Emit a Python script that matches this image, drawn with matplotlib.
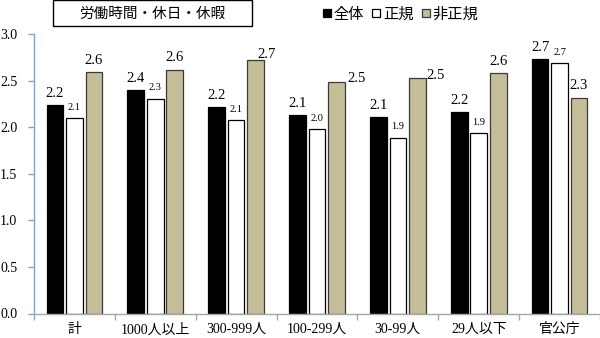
import matplotlib
matplotlib.use("Agg")
import matplotlib.pyplot as plt
import numpy as np
from matplotlib.lines import Line2D
from matplotlib.patches import Rectangle

# Scores by company size
categories = ["計", "1000人以上", "300-999人", "100-299人", "30-99人", "29人以下", "官公庁"]
series_names = ["全体", "正規", "非正規"]
zentai = [2.235, 2.40, 2.22, 2.13, 2.11, 2.16, 2.735]
seiki = [2.10, 2.31, 2.08, 1.98, 1.89, 1.94, 2.69]
hiseiki = [2.59, 2.62, 2.72, 2.49, 2.53, 2.585, 2.32]
title_text = "労働時間・休日・休暇"
yticks = [0.0, 0.5, 1.0, 1.5, 2.0, 2.5, 3.0]

SERIF = "Liberation Serif"
CJK = "Noto Sans CJK JP"
MIXED = [SERIF, CJK]

face_colors = ["#000000", "#FFFFFF", "#C4BD97"]
edge_colors = ["#000000", "#000000", "#3A3A3A"]
label_sizes = [10.5, 7.5, 10.5]
# label offsets (points) for the 非正規 series; others sit centered above
tan_offsets = [(0, 6), (0, 6), (7.5, 2), (14.5, 0), (13, -0.5), (0, 6), (0, 6)]

fig = plt.figure(figsize=(6.0, 3.38), dpi=100)
ax = fig.add_axes([34 / 600, 1 - 313.5 / 338, 566 / 600, (313.5 - 34.3) / 338])

x = np.arange(len(categories))
bar_w = 0.206
step = 0.241
all_series = [zentai, seiki, hiseiki]
for i, vals in enumerate(all_series):
    xs = x + (i - 1) * step
    ax.bar(xs, vals, width=bar_w, color=face_colors[i], edgecolor=edge_colors[i],
           linewidth=0.9, zorder=2)
    for j, (xx, v) in enumerate(zip(xs, vals)):
        dx, dy = (tan_offsets[j] if i == 2 else (0, 6))
        ax.annotate(f"{v:.1f}", xy=(xx, v), xytext=(dx, dy), textcoords="offset points",
                    ha="center", va="baseline", fontsize=label_sizes[i],
                    family=SERIF, color="black")

ax.set_xlim(-0.5, len(categories) - 0.5)
ax.set_ylim(0, 3.0)

ax.set_yticks(yticks)
ax.set_yticklabels([f"{t:.1f}" for t in yticks], family=SERIF, fontsize=10)
ax.set_xticks(x)
ax.set_xticklabels(categories, family=MIXED, fontsize=10)
ax.set_xticks(np.arange(len(categories) + 1) - 0.5, minor=True)

for s in ("top", "right"):
    ax.spines[s].set_visible(False)
ax.spines["left"].set_color("#7AA6DB")
ax.spines["left"].set_linewidth(1.0)
ax.spines["bottom"].set_color("#A6A6A6")
ax.spines["bottom"].set_linewidth(1.0)

ax.tick_params(axis="y", direction="out", length=4, width=1, color="#7AA6DB", pad=8)
ax.tick_params(axis="x", which="major", length=0, pad=7)
ax.tick_params(axis="x", which="minor", direction="out", length=4, width=1, color="#A6A6A6")

# Title box
fig.patches.append(Rectangle((52.5 / 600, 1 - 25.5 / 338), 199 / 600, 25 / 338,
                             transform=fig.transFigure, facecolor="white",
                             edgecolor="black", linewidth=1.0))
fig.text(152 / 600, 1 - 13.5 / 338, title_text, ha="center", va="center",
         family=CJK, fontsize=10.5)

# Legend
handles = [Line2D([], [], linestyle="none", marker="s", markersize=5.5,
                  markerfacecolor=face_colors[i], markeredgecolor=edge_colors[i],
                  markeredgewidth=0.9) for i in range(3)]
leg = fig.legend(handles, series_names, loc="center left",
                 bbox_to_anchor=(322 / 600, 1 - 14 / 338), ncol=3, frameon=False,
                 prop={"family": CJK, "size": 11}, handlelength=0.6,
                 handletextpad=0.15, columnspacing=0.5, borderpad=0, borderaxespad=0)

fig.savefig("out.png", dpi=100)
